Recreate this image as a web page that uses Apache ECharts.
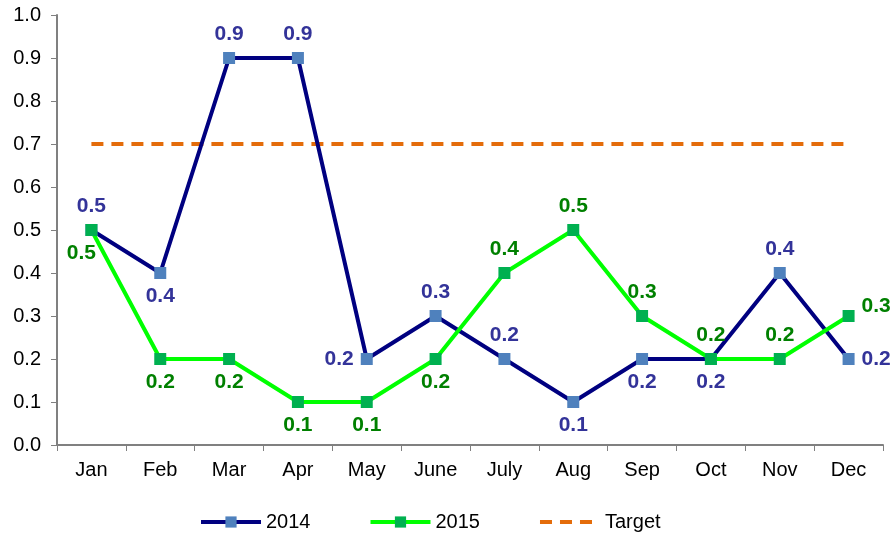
<!DOCTYPE html>
<html>
<head>
<meta charset="utf-8">
<script src="https://cdn.jsdelivr.net/npm/echarts@6/dist/echarts.min.js"></script>
<style>
  html, body { margin: 0; padding: 0; background: #fff; }
  #chart { width: 893px; height: 538px; }
</style>
</head>
<body>
<div id="chart"></div>
<script>
var months = ['Jan', 'Feb', 'Mar', 'Apr', 'May', 'June', 'July', 'Aug', 'Sep', 'Oct', 'Nov', 'Dec'];
var values2014 = [0.5, 0.4, 0.9, 0.9, 0.2, 0.3, 0.2, 0.1, 0.2, 0.2, 0.4, 0.2];
var values2015 = [0.5, 0.2, 0.2, 0.1, 0.1, 0.2, 0.4, 0.5, 0.3, 0.2, 0.2, 0.3];
var targetValues = [0.7, 0.7, 0.7, 0.7, 0.7, 0.7, 0.7, 0.7, 0.7, 0.7, 0.7, 0.7];
var pos2014 = ['top', 'bottom', 'top', 'top', 'left', 'top', 'top', 'bottom', 'bottom', 'bottom', 'top', 'right'];
var pos2015 = ['bottomLeft', 'bottom', 'bottom', 'bottom', 'bottom', 'bottom', 'top', 'top', 'top', 'top', 'top', 'topRight'];

var chart = echarts.init(document.getElementById('chart'));

function labelOffset(p) {
  if (p === 'bottomLeft') return { position: 'bottom', offset: [-10, 0] };
  if (p === 'topRight') return { position: 'right', offset: [0, -10] };
  return { position: p };
}

function makeData(values, positions, color) {
  return values.map(function (v, i) {
    var lp = labelOffset(positions[i]);
    return {
      value: v,
      label: {
        position: lp.position,
        offset: lp.offset || [0, 0],
        color: color
      }
    };
  });
}

var labelBase = {
  show: true,
  fontSize: 21,
  fontWeight: 'bold',
  fontFamily: 'Liberation Sans, Arial, sans-serif',
  distance: 7,
  formatter: function (p) { return p.value.toFixed(1); }
};

chart.setOption({
  animation: false,
  textStyle: { fontFamily: 'Liberation Sans, Arial, sans-serif' },
  grid: { left: 57, right: 10, top: 15, bottom: 93 },
  legend: {
    left: 194,
    bottom: 1,
    itemWidth: 60,
    itemHeight: 14,
    itemGap: 58,
    lineStyle: { width: 4 },
    textStyle: { fontSize: 20, color: '#000' },
    data: ['2014', '2015', { name: 'Target', itemStyle: { opacity: 0 } }]
  },
  xAxis: {
    type: 'category',
    data: months,
    boundaryGap: true,
    axisLine: { lineStyle: { color: '#808080', width: 2 } },
    axisTick: { show: true, length: 6, lineStyle: { color: '#808080' } },
    axisLabel: { color: '#000', fontSize: 20, margin: 15 }
  },
  yAxis: {
    type: 'value',
    min: 0,
    max: 1,
    interval: 0.1,
    axisLine: { show: true, lineStyle: { color: '#808080', width: 2 } },
    axisTick: { show: true, length: 6, lineStyle: { color: '#808080' } },
    splitLine: { show: false },
    axisLabel: {
      color: '#000',
      fontSize: 20,
      margin: 16,
      formatter: function (v) { return v.toFixed(1); }
    }
  },
  series: [
    {
      name: '2014',
      type: 'line',
      data: makeData(values2014, pos2014, '#333399'),
      symbol: 'rect',
      symbolSize: 12,
      lineStyle: { color: '#000080', width: 4 },
      itemStyle: { color: '#4F81BD' },
      label: labelBase,
      z: 3
    },
    {
      name: '2015',
      type: 'line',
      data: makeData(values2015, pos2015, '#008000'),
      symbol: 'rect',
      symbolSize: 12,
      lineStyle: { color: '#00FF00', width: 4 },
      itemStyle: { color: '#00B050' },
      label: labelBase,
      z: 4
    },
    {
      name: 'Target',
      type: 'line',
      data: targetValues,
      symbol: 'none',
      lineStyle: { color: '#E46C0A', width: 4, type: [12, 8] },
      itemStyle: { color: '#E46C0A' },
      z: 2
    }
  ]
});
</script>
</body>
</html>
